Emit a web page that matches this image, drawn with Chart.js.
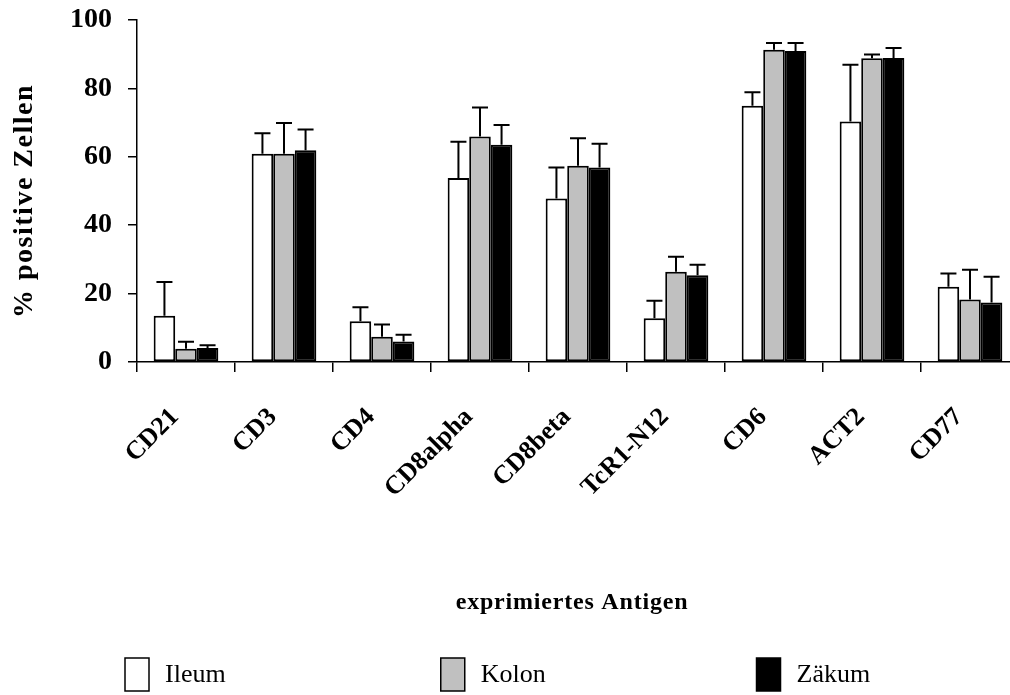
<!DOCTYPE html>
<html><head><meta charset="utf-8">
<script src="https://cdn.jsdelivr.net/npm/chart.js@4.4.1/dist/chart.umd.min.js"></script>
<style>html,body{margin:0;padding:0;overflow:hidden;background:#fff}#wrap{width:1030px;height:695px;position:relative}</style>
</head><body><div id="wrap"><canvas id="c"></canvas></div>
<script>
const categories = ['CD21','CD3','CD4','CD8alpha','CD8beta','TcR1-N12','CD6','ACT2','CD77'];
const seriesNames = ['Ileum','Kolon','Zäkum'];
const seriesColors = ['#ffffff','#c0c0c0','#000000'];
const ileum    = [13.5,60.9,11.9,53.8,47.8,12.8,74.9,70.3,22.0];
const ileumSD  = [9.9,6.0,4.1,10.6,9.1,5.1,4.0,16.6,3.9];
const kolon    = [3.9,60.9,7.4,65.9,57.4,26.4,91.3,88.8,18.3];
const kolonSD  = [2.0,9.0,3.6,8.5,8.0,4.4,2.0,1.1,8.7];
const zaekum   = [4.1,61.9,6.0,63.5,56.9,25.4,90.9,88.9,17.4];
const zaekumSD = [0.8,6.1,2.0,5.8,6.9,3.0,2.4,2.9,7.5];
const yTicks = [0,20,40,60,80,100];
const yTitle = '% positive Zellen';
const xTitle = 'exprimiertes Antigen';

const SERIF = '"Liberation Serif", "Times New Roman", serif';
const values = [ileum, kolon, zaekum];
const sds = [ileumSD, kolonSD, zaekumSD];

const errorBars = {
  id: 'errorBars',
  afterDatasetsDraw(chart) {
    const ctx = chart.ctx, y = chart.scales.y;
    ctx.save();
    ctx.strokeStyle = '#000'; ctx.lineWidth = 2;
    chart.data.datasets.forEach((ds, di) => {
      const meta = chart.getDatasetMeta(di);
      meta.data.forEach((bar, i) => {
        const top = y.getPixelForValue(ds.data[i] + ds.sd[i]);
        const cap = 8;
        ctx.beginPath();
        ctx.moveTo(bar.x, bar.y); ctx.lineTo(bar.x, top);
        ctx.moveTo(bar.x - cap, top); ctx.lineTo(bar.x + cap, top);
        ctx.stroke();
      });
    });
    ctx.restore();
  }
};

const extras = {
  id: 'extras',
  afterDraw(chart) {
    const ctx = chart.ctx, a = chart.chartArea;
    ctx.save();
    ctx.fillStyle = '#000';
    ctx.font = 'bold 28px ' + SERIF;
    ctx.textAlign = 'center'; ctx.textBaseline = 'middle';
    try { ctx.letterSpacing = '1.5px'; } catch(e) {}
    ctx.translate(25, (a.top + a.bottom) / 2 + 10);
    ctx.rotate(-Math.PI / 2);
    ctx.fillText(yTitle, 0, 0);
    ctx.restore();
    ctx.save();
    ctx.fillStyle = '#000';
    ctx.font = 'bold 24px ' + SERIF;
    ctx.textAlign = 'center'; ctx.textBaseline = 'middle';
    try { ctx.letterSpacing = '0.8px'; } catch(e) {}
    ctx.fillText(xTitle, (a.left + a.right) / 2 - 6, a.bottom + 241);
    ctx.restore();
    ctx.save();
    const step = a.width * 0.358;
    const ly = a.bottom + 312;
    seriesNames.forEach((name, i) => {
      const bx = a.left - 12 + i * step;
      ctx.fillStyle = seriesColors[i];
      ctx.fillRect(bx, ly - 16, 24, 33);
      ctx.strokeStyle = '#000'; ctx.lineWidth = 1.5;
      ctx.strokeRect(bx, ly - 16, 24, 33);
      ctx.fillStyle = '#000';
      ctx.font = '26px ' + SERIF;
      ctx.textAlign = 'left'; ctx.textBaseline = 'middle';
      ctx.fillText(name, bx + 40, ly + 1);
    });
    ctx.restore();
  }
};

new Chart(document.getElementById('c'), {
  type: 'bar',
  data: {
    labels: categories,
    datasets: seriesNames.map((n, i) => ({
      label: n, data: values[i], sd: sds[i],
      backgroundColor: seriesColors[i], borderColor: '#000', borderWidth: 2,
      borderSkipped: false, categoryPercentage: 0.66, barPercentage: 1.0
    }))
  },
  options: {
    responsive: true, maintainAspectRatio: false, animation: false,
    layout: { padding: { top: 20, right: 11, left: 0, bottom: 0 } },
    plugins: { legend: { display: false }, tooltip: { enabled: false } },
    scales: {
      x: {
        grid: { display: true, drawOnChartArea: false, offset: true, tickLength: 10, color: '#000', lineWidth: 1.5 },
        border: { display: true, color: '#000', width: 1.5 },
        ticks: { color: '#000', font: { family: SERIF, size: 26, weight: 'bold' }, minRotation: 45, maxRotation: 45, padding: 30, labelOffset: -11, autoSkip: false },
        afterFit(s) { s.height = 333; s.paddingLeft = 0; s.paddingRight = 0; }
      },
      y: {
        min: 0, max: 100,
        afterBuildTicks(s) { s.ticks = yTicks.map(v => ({ value: v })); },
        grid: { display: true, drawOnChartArea: false, tickLength: 9, color: '#000', lineWidth: 1.5 },
        border: { display: true, color: '#000', width: 1.5 },
        ticks: { color: '#000', font: { family: SERIF, size: 28, weight: 'bold' }, padding: 16 },
        afterFit(s) { s.width = 137; s.paddingTop = 0; s.paddingBottom = 0; }
      }
    }
  },
  plugins: [errorBars, extras]
});
</script></body></html>
